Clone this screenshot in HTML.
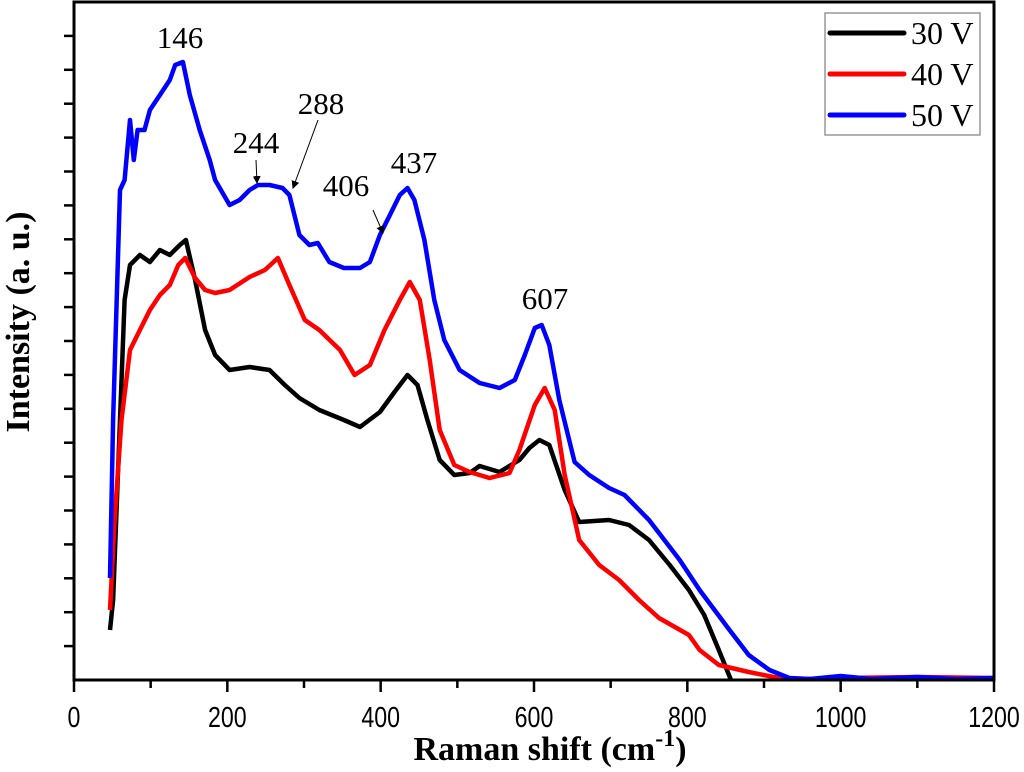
<!DOCTYPE html>
<html><head><meta charset="utf-8"><style>
html,body{margin:0;padding:0;background:#fff;}
svg{display:block;}
</style></head><body>
<svg id="chart" width="1024" height="772" viewBox="0 0 1024 772" xmlns="http://www.w3.org/2000/svg">
<g id="ticks"></g>
<g id="series"></g>
<rect x="74" y="2" width="920" height="678" fill="none" stroke="#000" stroke-width="3"/>
<g font-family="'Liberation Serif', serif" font-size="31" fill="#000">
<text x="180" y="48" text-anchor="middle">146</text>
<text x="256" y="153" text-anchor="middle">244</text>
<text x="321" y="114" text-anchor="middle">288</text>
<text x="346" y="196" text-anchor="middle">406</text>
<text x="414" y="173" text-anchor="middle">437</text>
<text x="545" y="309" text-anchor="middle">607</text>
</g>
<defs><marker id="ah" markerWidth="8" markerHeight="8" refX="7" refY="4" orient="auto"><path d="M0,0 L8,4 L0,8 Z" fill="#000"/></marker></defs>
<line x1="256" y1="160" x2="257" y2="183" stroke="#000" stroke-width="1" marker-end="url(#ah)"/>
<line x1="318" y1="120" x2="293" y2="188" stroke="#000" stroke-width="1" marker-end="url(#ah)"/>
<line x1="373" y1="210" x2="383" y2="233" stroke="#000" stroke-width="1" marker-end="url(#ah)"/>
<g>
<rect x="825" y="13" width="155" height="122" fill="#fff" stroke="#999" stroke-width="1.5"/>
<line x1="830" y1="33" x2="904" y2="33" stroke="#000" stroke-width="5" stroke-linecap="round"/>
<line x1="830" y1="74" x2="904" y2="74" stroke="#ff0000" stroke-width="5" stroke-linecap="round"/>
<line x1="830" y1="115" x2="904" y2="115" stroke="#0000ff" stroke-width="5" stroke-linecap="round"/>
<g font-family="'Liberation Serif', serif" font-size="32">
<text x="911" y="44">30 V</text>
<text x="911" y="85">40 V</text>
<text x="911" y="126">50 V</text>
</g></g>
<text x="550" y="760" text-anchor="middle" font-family="'Liberation Serif', serif" font-weight="bold" font-size="34">Raman shift (cm<tspan dy="-14" font-size="24">-1</tspan><tspan dy="14">)</tspan></text>
<text transform="translate(29,322) rotate(-90)" text-anchor="middle" font-family="'Liberation Serif', serif" font-weight="bold" font-size="34">Intensity (a. u.)</text>
</svg>
<script>
const xTicks=[0,100,200,300,400,500,600,700,800,900,1000,1100,1200];
const xTickLabels=["0","200","400","600","800","1000","1200"];
const blueX=[47,51,60,66,73,78,83,92,99,112,125,132,142,151,164,177,184,203,216,229,240,255,272,281,294,307,318,333,352,373,386,399,412,425,435,444,457,470,483,503,529,555,575,588,601,610,620,633,653,672,698,718,750,790,816,855,880,907,933,960,1000,1040,1100,1150,1200];
const blueY=[102,260,490,500,560,520,550,550,570,585,600,615,618,585,550,520,500,475,480,490,495,495,492,485,445,435,437,418,412,412,418,445,465,485,492,480,440,380,340,310,297,292,300,325,352,355,335,280,218,205,192,185,160,120,90,50,25,10,2,1,4,1,3,1,2];
const blackX=[47,51,60,66,73,86,99,112,125,138,146,158,171,184,203,229,255,275,294,320,352,373,399,418,435,448,461,477,496,516,529,555,581,594,607,620,640,659,698,724,750,777,802,822,841,857];
const blackY=[50,80,260,380,415,425,418,430,425,435,440,400,350,325,310,313,310,295,282,270,260,253,268,288,305,295,260,220,205,207,214,208,220,232,240,235,190,158,160,155,140,115,90,65,30,0];
const redX=[47,53,62,73,86,99,112,125,136,145,158,171,184,203,229,249,266,281,301,320,347,366,386,405,425,438,451,464,477,496,516,542,568,581,601,614,627,640,659,685,711,737,763,802,816,841,880,919,960,1000,1100,1200];
const redY=[70,160,260,330,350,370,385,395,415,422,402,390,387,390,403,410,422,395,360,350,330,305,315,350,380,398,380,320,250,215,208,202,207,230,275,292,270,205,140,115,100,80,62,45,30,15,8,2,1,2,3,2];
const sx=v=>74+v*(920/1200);
const sy=v=>680-v;
const NS="http://www.w3.org/2000/svg";
const tg=document.getElementById('ticks');
xTicks.forEach((t,i)=>{
  const l=document.createElementNS(NS,'line');
  l.setAttribute('x1',sx(t));l.setAttribute('x2',sx(t));l.setAttribute('y1',680);l.setAttribute('y2',i%2?688:692);
  l.setAttribute('stroke','#000');l.setAttribute('stroke-width','2.5');
  
  
  tg.appendChild(l);
});
xTickLabels.forEach((s,i)=>{
  const t=document.createElementNS(NS,'text');
  const cx=sx(i*200);
  t.setAttribute('x',0);t.setAttribute('y',0);t.setAttribute('text-anchor','middle');
  t.setAttribute('font-family',"'Liberation Sans', sans-serif");t.setAttribute('font-size','29');
  t.setAttribute('transform',`translate(${cx},727) scale(0.8,1)`);
  t.textContent=s;
  
  
  tg.appendChild(t);
});
for(let k=1;k<=19;k++){
  const y=680-k*33.9;
  const l=document.createElementNS(NS,'line');
  l.setAttribute('x1',64);l.setAttribute('x2',74);l.setAttribute('y1',y);l.setAttribute('y2',y);
  l.setAttribute('stroke','#000');l.setAttribute('stroke-width','2.5');
  
  
  tg.appendChild(l);
}
const sg=document.getElementById('series');
[[blackX,blackY,'#000000','series-30v'],[redX,redY,'#ff0000','series-40v'],[blueX,blueY,'#0000ff','series-50v']].forEach(([xs,ys,c,n])=>{
  const p=document.createElementNS(NS,'path');
  p.setAttribute('d',xs.map((x,i)=>(i?'L':'M')+sx(x).toFixed(1)+','+sy(ys[i]).toFixed(1)).join(' '));
  p.setAttribute('fill','none');p.setAttribute('stroke',c);p.setAttribute('stroke-width','4.5');p.setAttribute('stroke-linejoin','round');
  
  
  sg.appendChild(p);
});
</script>
</body></html>
